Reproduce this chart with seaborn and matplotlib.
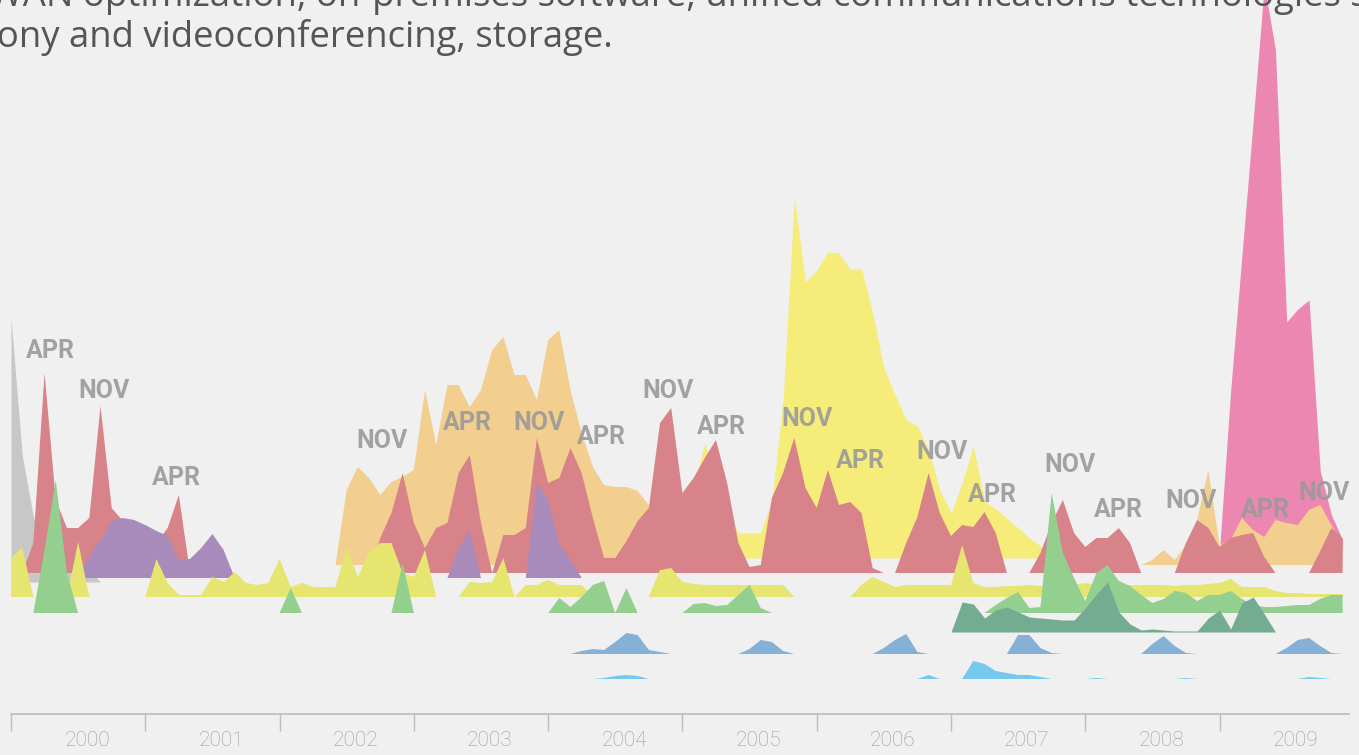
import numpy as np
import pandas as pd
import matplotlib.pyplot as plt
import seaborn as sns

# monthly values Jan 2000 .. Dec 2009, one row per year
years = [2000, 2001, 2002, 2003, 2004, 2005, 2006, 2007, 2008, 2009]

pink = [
    0, 0, 0, 0, 0, 0, 0, 0, 0, 0, 0, 0,
    0, 0, 0, 0, 0, 0, 0, 0, 0, 0, 0, 0,
    0, 0, 0, 0, 0, 0, 0, 0, 0, 0, 0, 0,
    0, 0, 0, 0, 0, 0, 0, 0, 0, 0, 0, 0,
    0, 0, 0, 0, 0, 0, 0, 0, 0, 0, 0, 0,
    0, 0, 0, 0, 0, 0, 0, 0, 0, 0, 0, 0,
    0, 0, 0, 0, 0, 0, 0, 0, 0, 0, 0, 0,
    0, 0, 0, 0, 0, 0, 0, 0, 0, 0, 0, 0,
    0, 0, 0, 0, 0, 0, 0, 0, 0, 0, 0, 0,
    0, 160, 294, 428, 565, 500, 228, 241, 250, 79, 35, 10,
]

yellow = [
    0, 0, 0, 0, 0, 0, 0, 0, 0, 0, 0, 0,
    0, 0, 0, 0, 0, 0, 0, 0, 0, 0, 0, 0,
    0, 0, 0, 0, 0, 0, 0, 0, 0, 0, 0, 0,
    0, 0, 0, 0, 0, 0, 0, 0, 0, 0, 0, 0,
    0, 0, 0, 0, 0, 0, 0, 0, 0, 0, 0, 0,
    0, 70, 115, 80, 50, 25, 25, 25, 58, 158, 360, 276,
    288, 306, 305, 288, 290, 245, 190, 163, 138, 132, 108, 68,
    45, 75, 112, 57, 49, 40, 30, 20, 12, 0, 0, 0,
    0, 0, 0, 0, 0, 0, 0, 0, 0, 0, 0, 0,
    0, 0, 0, 0, 0, 0, 0, 0, 0, 0, 0, 0,
]

orange = [
    0, 0, 0, 0, 0, 0, 0, 0, 0, 0, 0, 0,
    0, 0, 0, 0, 0, 0, 0, 0, 0, 0, 0, 0,
    0, 0, 0, 0, 0, 0, 75, 98, 87, 70, 83, 88,
    95, 175, 120, 180, 180, 158, 175, 215, 228, 190, 190, 165,
    225, 235, 175, 132, 98, 80, 78, 78, 74, 60, 45, 20,
    0, 0, 0, 0, 0, 0, 0, 0, 0, 0, 0, 0,
    0, 0, 0, 0, 0, 0, 0, 0, 0, 0, 0, 0,
    0, 0, 0, 0, 0, 0, 0, 0, 0, 0, 0, 0,
    0, 0, 0, 0, 0, 0, 5, 15, 5, 20, 45, 95,
    20, 25, 47, 35, 28, 45, 42, 40, 55, 60, 40, 20,
]

gray = [
    264, 127, 65, 41, 34, 29, 24, 12, 0, 0, 0, 0,
    0, 0, 0, 0, 0, 0, 0, 0, 0, 0, 0, 0,
    0, 0, 0, 0, 0, 0, 0, 0, 0, 0, 0, 0,
    0, 0, 0, 0, 0, 0, 0, 0, 0, 0, 0, 0,
    0, 0, 0, 0, 0, 0, 0, 0, 0, 0, 0, 0,
    0, 0, 0, 0, 0, 0, 0, 0, 0, 0, 0, 0,
    0, 0, 0, 0, 0, 0, 0, 0, 0, 0, 0, 0,
    0, 0, 0, 0, 0, 0, 0, 0, 0, 0, 0, 0,
    0, 0, 0, 0, 0, 0, 0, 0, 0, 0, 0, 0,
    0, 0, 0, 0, 0, 0, 0, 0, 0, 0, 0, 0,
]

red = [
    0, 0, 30, 200, 73, 45, 45, 55, 167, 65, 52, 45,
    35, 30, 45, 78, 0, 0, 0, 0, 0, 0, 0, 0,
    0, 0, 0, 0, 0, 0, 0, 0, 0, 35, 60, 100,
    50, 25, 45, 50, 100, 118, 50, 0, 38, 38, 45, 135,
    90, 95, 125, 100, 55, 15, 15, 32, 52, 65, 150, 165,
    80, 95, 115, 133, 90, 30, 6, 8, 75, 100, 135, 85,
    65, 103, 68, 71, 60, 5, 0, 0, 30, 56, 100, 60,
    37, 48, 46, 61, 40, 0, 0, 0, 20, 50, 73, 40,
    26, 35, 35, 45, 30, 0, 0, 0, 0, 30, 53, 45,
    26, 35, 38, 40, 16, 0, 0, 0, 0, 22, 45, 35,
]

purple = [
    0, 0, 0, 0, 0, 0, 0, 22, 38, 57, 60, 58,
    53, 47, 42, 18, 19, 30, 44, 28, 0, 0, 0, 0,
    0, 0, 0, 0, 0, 0, 0, 0, 0, 0, 0, 0,
    0, 0, 0, 0, 30, 48, 0, 0, 0, 0, 0, 95,
    78, 35, 18, 0, 0, 0, 0, 0, 0, 0, 0, 0,
    0, 0, 0, 0, 0, 0, 0, 0, 0, 0, 0, 0,
    0, 0, 0, 0, 0, 0, 0, 0, 0, 0, 0, 0,
    0, 0, 0, 0, 0, 0, 0, 0, 0, 0, 0, 0,
    0, 0, 0, 0, 0, 0, 0, 0, 0, 0, 0, 0,
    0, 0, 0, 0, 0, 0, 0, 0, 0, 0, 0, 0,
]

lime = [
    39, 50, 0, 0, 0, 0, 55, 0, 0, 0, 0, 0,
    0, 38, 14, 2, 2, 2, 20, 15, 25, 14, 12, 14,
    38, 10, 14, 10, 10, 10, 50, 20, 45, 54, 54, 24,
    20, 47, 0, 0, 0, 15, 14, 15, 39, 0, 12, 12,
    17, 12, 12, 12, 0, 0, 0, 0, 0, 0, 27, 29,
    15, 13, 12, 12, 12, 12, 12, 12, 12, 12, 0, 0,
    0, 0, 0, 0, 12, 20, 15, 10, 12, 12, 12, 12,
    12, 52, 14, 10, 10, 11, 11, 12, 11, 10, 11, 12,
    14, 12, 11, 11, 12, 12, 12, 12, 11, 12, 12, 13,
    14, 18, 10, 10, 10, 6, 4, 4, 3, 3, 3, 3,
]

green = [
    0, 0, 0, 63, 133, 40, 0, 0, 0, 0, 0, 0,
    0, 0, 0, 0, 0, 0, 0, 0, 0, 0, 0, 0,
    0, 25, 0, 0, 0, 0, 0, 0, 0, 0, 0, 50,
    0, 0, 0, 0, 0, 0, 0, 0, 0, 0, 0, 0,
    0, 15, 6, 16, 28, 32, 0, 25, 0, 0, 0, 0,
    0, 9, 10, 7, 8, 18, 28, 5, 0, 0, 0, 0,
    0, 0, 0, 0, 0, 0, 0, 0, 0, 0, 0, 0,
    0, 0, 0, 0, 8, 15, 21, 5, 6, 120, 60, 35,
    12, 40, 48, 32, 27, 18, 10, 14, 22, 20, 12, 18,
    18, 22, 14, 8, 6, 6, 7, 8, 8, 14, 18, 18,
]

teal = [
    0, 0, 0, 0, 0, 0, 0, 0, 0, 0, 0, 0,
    0, 0, 0, 0, 0, 0, 0, 0, 0, 0, 0, 0,
    0, 0, 0, 0, 0, 0, 0, 0, 0, 0, 0, 0,
    0, 0, 0, 0, 0, 0, 0, 0, 0, 0, 0, 0,
    0, 0, 0, 0, 0, 0, 0, 0, 0, 0, 0, 0,
    0, 0, 0, 0, 0, 0, 0, 0, 0, 0, 0, 0,
    0, 0, 0, 0, 0, 0, 0, 0, 0, 0, 0, 0,
    0, 30, 28, 14, 22, 25, 20, 15, 14, 13, 12, 12,
    24, 38, 50, 20, 8, 2, 3, 2, 1, 1, 1, 14,
    22, 3, 29, 35, 18, 0, 0, 0, 0, 0, 0, 0,
]

blue = [
    0, 0, 0, 0, 0, 0, 0, 0, 0, 0, 0, 0,
    0, 0, 0, 0, 0, 0, 0, 0, 0, 0, 0, 0,
    0, 0, 0, 0, 0, 0, 0, 0, 0, 0, 0, 0,
    0, 0, 0, 0, 0, 0, 0, 0, 0, 0, 0, 0,
    0, 0, 0, 3, 5, 4, 12, 21, 19, 4, 2, 0,
    0, 0, 0, 0, 0, 0, 5, 14, 12, 3, 0, 0,
    0, 0, 0, 0, 0, 0, 6, 14, 20, 2, 0, 0,
    0, 0, 0, 0, 0, 0, 19, 19, 6, 1, 0, 0,
    0, 0, 0, 0, 0, 0, 10, 18, 8, 1, 0, 0,
    0, 0, 0, 0, 0, 0, 6, 14, 16, 8, 1, 0,
]

sky = [
    0, 0, 0, 0, 0, 0, 0, 0, 0, 0, 0, 0,
    0, 0, 0, 0, 0, 0, 0, 0, 0, 0, 0, 0,
    0, 0, 0, 0, 0, 0, 0, 0, 0, 0, 0, 0,
    0, 0, 0, 0, 0, 0, 0, 0, 0, 0, 0, 0,
    0, 0, 0, 0, 0, 1, 3, 4, 3, 0, 0, 0,
    0, 0, 0, 0, 0, 0, 0, 0, 0, 0, 0, 0,
    0, 0, 0, 0, 0, 0, 0, 0, 0, 0, 4, 0,
    0, 0, 18, 15, 8, 6, 4, 4, 2, 0, 0, 0,
    0, 1, 0, 0, 0, 0, 0, 0, 0, 1, 0, 0,
    0, 0, 0, 0, 0, 0, 0, 0, 2, 1, 0, 0,
]

# APR / NOV annotations (month index, height)
label_text = ["APR", "NOV", "APR", "NOV", "APR", "NOV", "APR", "NOV", "APR",
              "NOV", "APR", "NOV", "APR", "NOV", "APR", "NOV", "APR", "NOV"]
label_month = [3.5, 8.3, 14.8, 33.2, 40.8, 47.2, 52.8, 58.7, 63.5,
               71.1, 75.9, 83.2, 87.7, 94.6, 99.0, 105.5, 112.1, 117.3]
label_height = [363, 323, 236, 273, 291, 291, 277, 323, 287,
                295, 253, 262, 219, 249, 204, 213, 204, 221]

title_1 = "WAN optimization, on-premises software, unified communications technologies such as IP"
title_2 = "telephony and videoconferencing, storage."

BG = "#eff0ef"

# name, values, baseline offset, colour (back to front)
layers = [
    ("pink", pink, 164, "#ec87b2"),
    ("yellow", yellow, 156, "#f6ec7a"),
    ("orange", orange, 149, "#f3cf8f"),
    ("gray", gray, 132, "#c6c7c6"),
    ("red", red, 141, "#d78389"),
    ("purple", purple, 136, "#a98bbb"),
    ("lime", lime, 117, "#e6e570"),
    ("green", green, 101, "#93cf8f"),
    ("teal", teal, 82, "#74ac92"),
    ("blue", blue, 60, "#86b1d6"),
    ("sky", sky, 35, "#74c9ec"),
]

sns.set_theme(style="white", rc={"axes.facecolor": BG, "figure.facecolor": BG,
                                 "xtick.bottom": True})
plt.rcParams["font.family"] = ["Roboto", "DejaVu Sans"]

fig = plt.figure(figsize=(13.59, 7.55), dpi=100)
ax = fig.add_axes([11 / 1359, 41 / 755, 1338 / 1359, 714 / 755])

months = np.arange(120)
df = pd.DataFrame({name: vals for name, vals, _, _ in layers}, index=months)

for z, (name, vals, base, color) in enumerate(layers):
    v = df[name].to_numpy(dtype=float)
    on = v > 0
    mask = on | np.r_[on[1:], False] | np.r_[False, on[:-1]]
    ax.fill_between(months, base, base + v, where=mask, color=color,
                    lw=0, zorder=2 + z)

for t, m, h in zip(label_text, label_month, label_height):
    ax.text(m, h, t, ha="center", va="center", fontsize=18,
            fontweight="bold", color="#9a9a9a", alpha=0.9, zorder=20)

ax.set_xlim(0, 119.57)
ax.set_ylim(0, 714)
ax.set_yticks([])
for s in ["left", "right", "top"]:
    ax.spines[s].set_visible(False)
ax.spines["bottom"].set_color("#bcbcbc")
ax.spines["bottom"].set_linewidth(1.2)

ax.set_xticks([12 * i for i in range(10)], labels=[""] * 10)
ax.set_xticks([6.8 + 12 * i for i in range(10)], labels=[str(y) for y in years], minor=True)
ax.tick_params(axis="x", which="major", bottom=True, length=12, width=1,
               color="#bcbcbc", direction="out")
ax.tick_params(axis="x", which="minor", bottom=True, length=0, pad=12,
               labelsize=15, labelcolor="#9c9c9c")
for lab in ax.get_xticklabels(minor=True):
    lab.set_fontweight("light")

fig.text(-11 / 1359, 1 - 6 / 755, title_1, ha="left", va="baseline",
         fontsize=26.3, family="Open Sans", color="#555555")
fig.text(613 / 1359, 1 - 47 / 755, title_2, ha="right", va="baseline",
         fontsize=26.3, family="Open Sans", color="#555555")

fig.savefig("out.png", dpi=100, facecolor=BG)
